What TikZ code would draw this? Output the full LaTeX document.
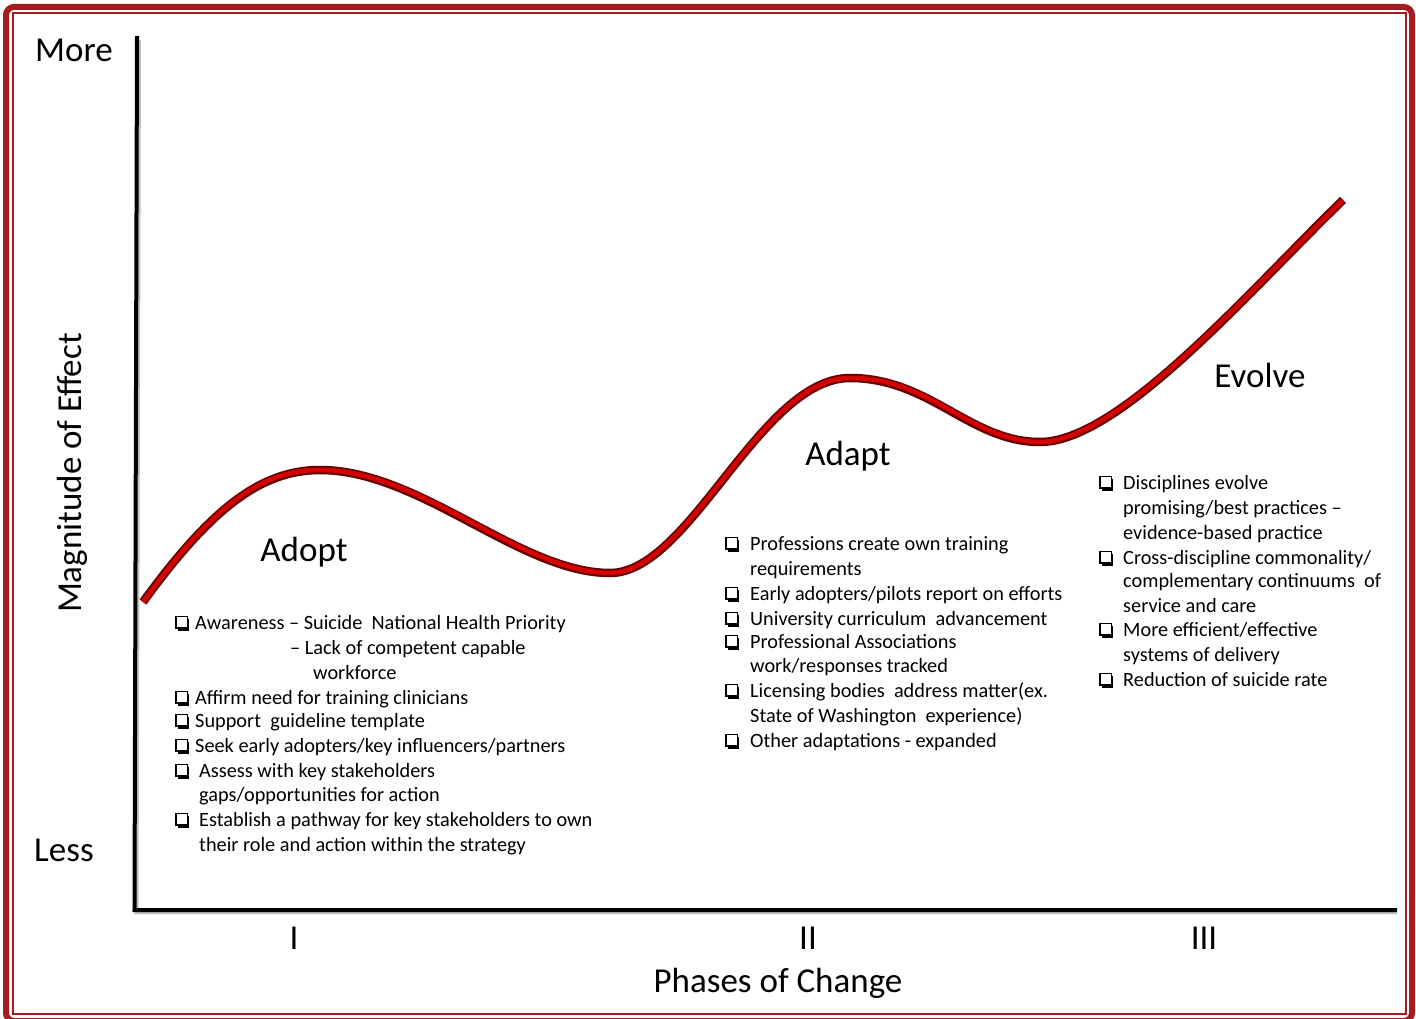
\documentclass[tikz,border=0pt]{standalone}
\usepackage{fontspec}
\setmainfont{Carlito}
\definecolor{framered}{RGB}{165,28,32}
\definecolor{curvered}{RGB}{214,0,0}
\definecolor{curvedark}{RGB}{100,0,0}
\newcommand{\bx}{\tikz[baseline=0pt,x=1pt,y=1pt]{\fill[black] (2.6,-1.6) rectangle (14,10); \draw[line width=1.4pt, fill=white] (0.7,1.2) rectangle (12,12.4);}}
\begin{document}
\begin{tikzpicture}[x=1pt,y=-1pt,
  lbl/.style={inner sep=0pt, font=\fontsize{35}{42}\selectfont},
  item/.style={anchor=base west, inner sep=0pt, font=\fontsize{20.3}{24}\selectfont},
  axisline/.style={line width=4pt, line join=miter, line cap=rect},
  axisshadow/.style={line width=4pt, black!25, line join=miter},
]
\useasboundingbox (0,0) rectangle (1416,1019);
% frame
\draw[framered, line width=6pt, rounded corners=8pt] (6,7) rectangle (1412,1021);
\draw[framered, line width=2pt] (12.7,13.5) rectangle (1406,1014);

% axes
\coordinate (ytop) at (137,38);
\coordinate (origin) at (134.5,910);
\coordinate (xend) at (1395,910);
\draw[axisshadow] ([shift={(2,2)}]ytop) -- ([shift={(2,2)}]origin) -- ([shift={(2,2)}]xend);
\draw[axisline] (ytop) -- (origin) -- (xend);

% curve
\coordinate (c0) at (143,602);
\coordinate (c1) at (320,470);
\coordinate (c2) at (610,573);
\coordinate (c3) at (850,378);
\coordinate (c4) at (1040,442);
\coordinate (c5) at (1343,200);
\draw[curvedark, line width=8.5pt] (c0) .. controls (210,510) and (260,470) .. (c1)
  .. controls (420,470) and (520,573) .. (c2)
  .. controls (690,573) and (760,378) .. (c3)
  .. controls (930,378) and (970,442) .. (c4)
  .. controls (1120,442) and (1250,290) .. (c5);
\draw[curvered, line width=4.5pt, shift={(0,-0.8)}] (c0) .. controls (210,510) and (260,470) .. (c1)
  .. controls (420,470) and (520,573) .. (c2)
  .. controls (690,573) and (760,378) .. (c3)
  .. controls (930,378) and (970,442) .. (c4)
  .. controls (1120,442) and (1250,290) .. (c5);

% axis labels
\node[lbl] (more) at (74,50) {More};
\node[lbl] (less) at (64,850) {Less};
\node[lbl, rotate=90] (mag) at (72,473) {Magnitude of Effect};
\node[lbl] (phases) at (778,983) {Phases of Change};
\node[lbl] (ph1) at (294,938) {I};
\node[lbl] (ph2) at (808,938) {II};
\node[lbl] (ph3) at (1204,938) {III};

% phase titles
\node[lbl] (adopt) at (304,552) {Adopt};
\node[lbl] (adapt) at (848,456) {Adapt};
\node[lbl] (evolve) at (1260,375) {Evolve};

% list 1
\node[item] (a1) at (175,629) {\makebox[20pt][l]{\bx}Awareness – Suicide\ \ National Health Priority};
\node[item] (a2) at (290,654) {– Lack of competent capable};
\node[item] (a3) at (313,679) {workforce};
\node[item] (a4) at (175,704) {\makebox[20pt][l]{\bx}Affirm need for training clinicians};
\node[item] (a5) at (175,727) {\makebox[20pt][l]{\bx}Support\ \ guideline template};
\node[item] (a6) at (175,752) {\makebox[20pt][l]{\bx}Seek early adopters/key influencers/partners};
\node[item] (a7) at (175,777) {\makebox[24pt][l]{\bx}Assess with key stakeholders};
\node[item] (a8) at (199,801) {gaps/opportunities for action};
\node[item] (a9) at (175,826) {\makebox[24pt][l]{\bx}Establish a pathway for key stakeholders to own};
\node[item] (a10) at (199,851) {their role and action within the strategy};

% list 2
\node[item] (b1) at (725,550) {\makebox[25pt][l]{\bx}Professions create own training};
\node[item] (b2) at (750,575) {requirements};
\node[item] (b3) at (725,600) {\makebox[25pt][l]{\bx}Early adopters/pilots report on efforts};
\node[item] (b4) at (725,625) {\makebox[25pt][l]{\bx}University curriculum\ \ advancement};
\node[item] (b5) at (725,648) {\makebox[25pt][l]{\bx}Professional Associations};
\node[item] (b6) at (750,672) {work/responses tracked};
\node[item] (b7) at (725,697) {\makebox[25pt][l]{\bx}Licensing bodies\ \ address matter(ex.};
\node[item] (b8) at (750,722) {State of Washington\ \ experience)};
\node[item] (b9) at (725,747) {\makebox[25pt][l]{\bx}Other adaptations - expanded};

% list 3
\node[item] (e1) at (1099,489) {\makebox[24pt][l]{\bx}Disciplines evolve};
\node[item] (e2) at (1123,514) {promising/best practices –};
\node[item] (e3) at (1123,539) {evidence-based practice};
\node[item] (e4) at (1099,564) {\makebox[24pt][l]{\bx}Cross-discipline commonality/};
\node[item] (e5) at (1123,587) {complementary continuums\ \ of};
\node[item] (e6) at (1123,612) {service and care};
\node[item] (e7) at (1099,636) {\makebox[24pt][l]{\bx}More efficient/effective};
\node[item] (e8) at (1123,661) {systems of delivery};
\node[item] (e9) at (1099,686) {\makebox[24pt][l]{\bx}Reduction of suicide rate};
\end{tikzpicture}
\end{document}
